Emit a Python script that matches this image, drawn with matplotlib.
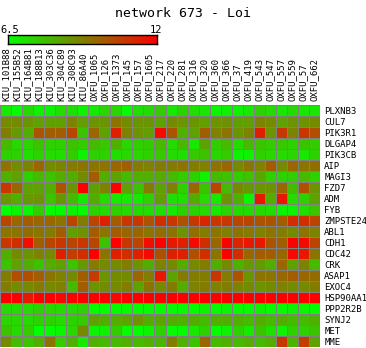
import numpy as np
import matplotlib
matplotlib.use("Agg")
import matplotlib.pyplot as plt
from matplotlib.colors import LinearSegmentedColormap

# sample (column) names
samples = ['KIU_101B88', 'KIU_155B52', 'KIU_164B81', 'KIU_188B13', 'KIU_303C36',
           'KIU_304C89', 'KIU_308C93', 'KIU_86A40', 'OXFU_1065', 'OXFU_126',
           'OXFU_1373', 'OXFU_145', 'OXFU_157', 'OXFU_1605', 'OXFU_217',
           'OXFU_220', 'OXFU_281', 'OXFU_316', 'OXFU_320', 'OXFU_360',
           'OXFU_366', 'OXFU_37', 'OXFU_419', 'OXFU_543', 'OXFU_547',
           'OXFU_557', 'OXFU_559', 'OXFU_57', 'OXFU_662']

# gene (row) names
genes = ['PLXNB3', 'CUL7', 'PIK3R1', 'DLGAP4', 'PIK3CB', 'AIP', 'MAGI3', 'FZD7',
         'ADM', 'FYB', 'ZMPSTE24', 'ABL1', 'CDH1', 'CDC42', 'CRK', 'ASAP1',
         'EXOC4', 'HSP90AA1', 'PPP2R2B', 'SYNJ2', 'MET', 'MME']

# expression values, one list per gene
PLXNB3 = [7.0, 6.6, 7.3, 6.8, 6.8, 7.2, 7.2, 6.8, 7.0, 7.4, 7.4, 6.6, 7.2, 7.3, 7.6,
          7.0, 7.5, 7.2, 7.0, 6.7, 6.8, 6.8, 7.0, 7.5, 7.3, 7.0, 7.3, 7.0, 7.0]
CUL7 = [9.0, 9.0, 8.8, 8.5, 8.6, 8.6, 9.2, 8.6, 8.8, 8.8, 9.5, 9.0, 8.8, 8.8, 8.5,
        9.0, 8.8, 8.8, 8.6, 8.8, 8.9, 8.6, 8.6, 9.2, 9.0, 8.5, 8.8, 8.8, 9.0]
PIK3R1 = [9.3, 8.7, 8.3, 10.2, 10.0, 10.0, 10.5, 7.8, 9.8, 8.5, 11.3, 9.2, 8.8, 8.6, 11.8,
          10.2, 8.2, 8.5, 10.0, 9.2, 9.5, 8.8, 9.2, 11.3, 8.8, 10.8, 9.2, 10.8, 10.3]
DLGAP4 = [8.0, 7.4, 7.4, 7.8, 7.5, 7.5, 7.8, 7.6, 8.0, 7.7, 8.2, 7.4, 7.5, 7.6, 8.0,
          7.3, 8.0, 7.0, 8.5, 7.6, 8.0, 7.3, 8.0, 7.8, 7.6, 7.7, 7.5, 7.8, 7.6]
PIK3CB = [7.5, 7.5, 7.2, 7.5, 7.3, 7.2, 7.6, 6.8, 7.5, 7.5, 7.2, 7.4, 7.4, 7.5, 7.7,
          7.3, 7.2, 7.7, 7.8, 7.4, 7.6, 6.8, 6.8, 7.5, 7.4, 7.3, 7.4, 7.0, 7.5]
AIP = [9.5, 9.0, 9.2, 9.8, 9.0, 9.2, 9.3, 9.5, 9.5, 9.5, 9.8, 9.9, 9.3, 9.2, 9.3,
       9.3, 9.5, 9.3, 9.2, 9.5, 9.8, 9.0, 9.5, 9.2, 10.0, 9.0, 9.8, 9.5, 9.6]
MAGI3 = [8.2, 8.5, 7.5, 8.0, 7.8, 8.3, 8.3, 9.0, 10.0, 8.3, 8.5, 8.0, 8.2, 8.2, 8.3,
         8.0, 7.6, 7.5, 6.8, 8.0, 7.8, 7.6, 7.8, 8.4, 7.5, 7.5, 7.6, 8.0, 7.5]
FZD7 = [10.8, 9.8, 8.5, 8.5, 8.2, 10.2, 8.8, 12.0, 8.6, 9.2, 12.0, 8.5, 7.8, 9.3, 8.5,
        9.2, 7.5, 9.8, 7.8, 10.5, 8.0, 9.0, 8.7, 8.8, 8.8, 9.8, 8.0, 10.3, 8.8]
ADM = [8.7, 8.3, 8.7, 8.8, 7.8, 8.7, 8.0, 7.0, 8.3, 7.3, 7.0, 7.0, 7.0, 7.5, 8.6,
       7.2, 7.2, 8.3, 7.3, 7.0, 8.8, 8.2, 6.8, 11.5, 8.3, 11.5, 7.3, 7.5, 8.5]
FYB = [6.5, 6.8, 6.7, 7.6, 6.6, 6.6, 6.8, 6.6, 7.5, 7.3, 7.5, 7.3, 7.3, 7.3, 7.2,
       7.0, 7.5, 7.5, 7.3, 7.0, 7.5, 7.3, 7.3, 7.4, 7.2, 6.8, 6.8, 7.2, 7.8]
ZMPSTE24 = [10.5, 9.8, 10.0, 9.8, 9.8, 9.5, 10.5, 9.3, 10.5, 11.3, 10.0, 10.8, 10.8, 10.2, 11.0,
            10.8, 10.2, 10.8, 11.2, 10.8, 10.8, 10.5, 10.5, 10.2, 10.2, 10.0, 11.0, 11.0, 10.5]
ABL1 = [9.5, 9.5, 9.6, 9.5, 9.3, 10.0, 8.6, 8.8, 10.0, 9.5, 10.0, 9.8, 9.8, 9.5, 9.6,
        9.5, 8.8, 9.6, 9.3, 9.5, 9.2, 9.5, 9.3, 9.2, 9.5, 9.3, 9.0, 9.5, 9.2]
CDH1 = [10.8, 11.0, 11.7, 10.0, 10.5, 10.8, 10.5, 10.8, 10.5, 7.8, 12.0, 10.8, 10.5, 11.7, 12.0,
        11.5, 11.3, 11.8, 11.0, 9.8, 12.0, 11.2, 11.5, 11.5, 10.2, 10.0, 12.0, 11.8, 10.5]
CDC42 = [8.3, 9.0, 8.8, 9.2, 9.0, 11.3, 10.7, 11.0, 12.0, 9.5, 11.3, 11.0, 11.3, 11.8, 10.3,
         11.3, 11.3, 10.3, 11.0, 9.5, 12.0, 11.0, 9.8, 10.0, 10.0, 9.8, 11.8, 11.5, 9.5]
CRK = [7.8, 8.5, 8.3, 7.8, 8.3, 8.5, 7.8, 8.7, 9.3, 9.0, 9.0, 9.3, 8.8, 8.3, 9.2,
       9.0, 8.3, 9.0, 9.3, 8.3, 9.0, 8.2, 8.7, 8.7, 8.3, 9.8, 8.5, 9.2, 8.0]
ASAP1 = [9.3, 10.3, 10.3, 10.0, 9.5, 9.2, 9.0, 10.0, 10.7, 8.8, 9.0, 9.0, 9.8, 9.3, 11.5,
         8.5, 9.3, 9.3, 9.3, 10.8, 9.3, 10.2, 8.8, 9.5, 9.5, 9.8, 10.0, 9.8, 9.7]
EXOC4 = [9.3, 9.0, 9.0, 9.3, 9.0, 9.2, 8.0, 10.0, 8.8, 9.0, 9.0, 9.3, 8.5, 9.5, 9.0,
         9.3, 8.3, 9.2, 9.3, 9.2, 9.3, 9.2, 9.0, 8.8, 9.0, 9.2, 9.0, 9.0, 9.3]
HSP90AA1 = [12.0, 12.0, 11.5, 12.0, 12.0, 11.8, 12.0, 12.0, 12.0, 12.0, 11.8, 12.0, 12.0, 12.0, 12.0,
            12.0, 12.0, 12.0, 12.0, 12.0, 12.0, 12.0, 12.0, 12.0, 12.0, 12.0, 12.0, 12.0, 12.0]
PPP2R2B = [7.3, 7.3, 7.3, 7.5, 7.4, 7.3, 7.3, 7.5, 6.6, 6.5, 6.6, 6.6, 6.6, 6.6, 6.6,
           6.6, 6.6, 6.6, 6.8, 6.6, 6.7, 6.6, 6.6, 6.8, 6.6, 6.6, 6.8, 6.7, 6.6]
SYNJ2 = [7.4, 7.4, 7.3, 7.5, 7.5, 7.3, 7.5, 7.6, 8.5, 8.3, 8.3, 8.5, 8.8, 8.3, 8.4,
         8.3, 8.2, 8.3, 8.0, 8.2, 8.3, 8.2, 8.0, 8.3, 8.0, 8.3, 8.0, 8.0, 8.2]
MET = [7.8, 7.3, 7.6, 6.5, 6.6, 6.7, 7.4, 9.0, 6.8, 6.8, 7.6, 6.6, 6.6, 6.8, 7.5,
       6.6, 6.6, 7.0, 7.5, 6.6, 6.8, 7.5, 7.0, 7.8, 7.2, 6.8, 7.5, 7.5, 7.8]
MME = [9.0, 8.0, 7.8, 8.3, 9.5, 7.6, 8.2, 7.0, 8.2, 8.0, 8.0, 8.2, 8.0, 8.2, 8.1,
       9.3, 8.2, 7.8, 9.8, 8.0, 8.2, 8.0, 8.3, 8.0, 8.3, 10.8, 8.2, 10.7, 8.5]

vmin, vmax = 6.5, 12

data = np.array([PLXNB3, CUL7, PIK3R1, DLGAP4, PIK3CB, AIP, MAGI3, FZD7, ADM, FYB,
                 ZMPSTE24, ABL1, CDH1, CDC42, CRK, ASAP1, EXOC4, HSP90AA1, PPP2R2B,
                 SYNJ2, MET, MME])

cmap = LinearSegmentedColormap.from_list('gr', [(0, 1, 0), (1, 0, 0)])
mono = 'DejaVu Sans Mono'

W, H = 366, 348
fig = plt.figure(figsize=(W / 100, H / 100), dpi=100)
fig.patch.set_facecolor('white')

# heatmap
ax = fig.add_axes([0 / W, 1 - 347 / H, 320 / W, 242 / H])
ax.pcolormesh(data, cmap=cmap, vmin=vmin, vmax=vmax,
              edgecolors='#808080', linewidth=0.7, snap=True)
ax.set_xlim(0, len(samples))
ax.set_ylim(len(genes), 0)
for s in ax.spines.values():
    s.set_visible(False)

ax.xaxis.tick_top()
ax.set_xticks(np.arange(len(samples)) + 0.5)
ax.set_xticklabels(samples, rotation=90, fontsize=6.5, family=mono)
ax.yaxis.tick_right()
ax.set_yticks(np.arange(len(genes)) + 0.5)
ax.set_yticklabels(genes, fontsize=6.5, family=mono)
ax.tick_params(length=0, pad=3)

# colour bar
cax = fig.add_axes([8 / W, 1 - 44 / H, 149 / W, 9 / H])
grad = np.linspace(vmin, vmax, 256).reshape(1, -1)
cax.imshow(grad, aspect='auto', cmap=cmap, vmin=vmin, vmax=vmax,
           extent=[vmin, vmax, 0, 1])
cax.set_xticks([])
cax.set_yticks([])
for s in cax.spines.values():
    s.set_color('black')
    s.set_linewidth(1.0)

fig.text(0 / W, 1 - 33 / H, '6.5', fontsize=7.5, family=mono, ha='left', va='baseline')
fig.text(150 / W, 1 - 33 / H, '12', fontsize=7.5, family=mono, ha='left', va='baseline')

fig.text(0.5, 1 - 17 / H, 'network 673 - Loi', fontsize=9.5, family=mono,
         ha='center', va='baseline')

fig.savefig('out.png', dpi=100)
